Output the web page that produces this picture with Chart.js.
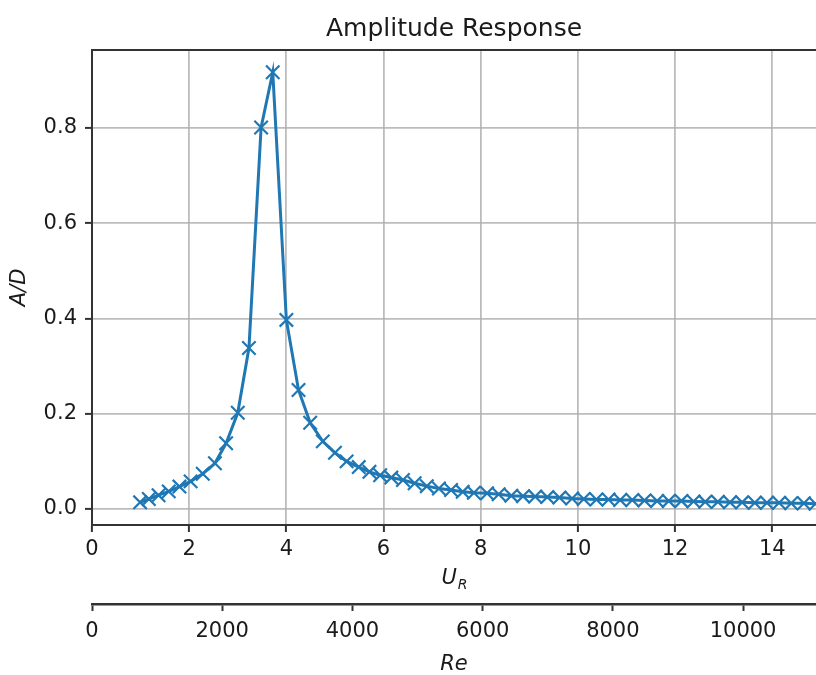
<!DOCTYPE html>
<html lang="en">
<head>
  <meta charset="UTF-8">
  <title>Amplitude Response</title>
  <script src="https://cdn.jsdelivr.net/npm/chart.js"></script>
  <style>
    body { margin: 0; background: #fff; }
    #wrap { width: 816px; height: 675px; }
  </style>
</head>
<body>
<div id="wrap"><canvas id="chart" width="816" height="675"></canvas></div>

<script>
  // reduced velocity U_R and amplitude ratio A/D
  const urValues = [0.99, 1.17, 1.37, 1.58, 1.80, 2.03, 2.28, 2.53, 2.76, 3.00,
    3.23, 3.48, 3.72, 4.00, 4.25, 4.49, 4.75, 5.00, 5.24, 5.49, 5.71, 5.93, 6.16,
    6.40, 6.64, 6.89, 7.14, 7.39, 7.63, 7.86, 8.13, 8.37, 8.63, 8.87, 9.12, 9.37,
    9.62, 9.88, 10.12, 10.38, 10.63, 10.87, 11.12, 11.37, 11.63, 11.87, 12.13,
    12.38, 12.62, 12.88, 13.13, 13.38, 13.64, 13.89, 14.14, 14.39, 14.65, 14.89];
  const adValues = [0.014, 0.021, 0.029, 0.037, 0.047, 0.058, 0.074, 0.096, 0.138, 0.202,
    0.338, 0.801, 0.917, 0.397, 0.250, 0.181, 0.142, 0.118, 0.100, 0.088, 0.078, 0.071, 0.066,
    0.061, 0.054, 0.048, 0.043, 0.040, 0.036, 0.034, 0.033, 0.031, 0.028, 0.027, 0.026, 0.025,
    0.024, 0.022, 0.021, 0.020, 0.020, 0.019, 0.019, 0.018, 0.017, 0.017, 0.017,
    0.016, 0.015, 0.015, 0.014, 0.014, 0.013, 0.013, 0.013, 0.012, 0.012, 0.011];

  const urTicks = [0, 2, 4, 6, 8, 10, 12, 14];
  const adTicks = [0, 0.2, 0.4, 0.6, 0.8];
  const reTicks = [0, 2000, 4000, 6000, 8000, 10000];

  const FONT = '"DejaVu Sans", sans-serif';
  const TEXT = '#1a1a1a';
  const SPINE = '#333';
  const GRID = 'rgba(176,176,176,0.85)';
  const BLUE = '#1f77b4';

  // top spine + U_R axis label with subscript
  const extras = {
    id: 'extras',
    afterDraw(chart) {
      const { ctx, chartArea: a } = chart;
      ctx.save();
      ctx.strokeStyle = SPINE;
      ctx.lineWidth = 2;
      ctx.beginPath();
      ctx.moveTo(a.left - 1, a.top);
      ctx.lineTo(a.right, a.top);
      ctx.stroke();

      const cx = (a.left + a.right) / 2;
      const cy = chart.scales.x.bottom - 25;
      ctx.fillStyle = TEXT;
      ctx.textBaseline = 'middle';
      ctx.textAlign = 'left';
      ctx.font = 'italic 21px ' + FONT;
      const wU = ctx.measureText('U').width;
      ctx.font = 'italic 14px ' + FONT;
      const wR = ctx.measureText('R').width;
      const x0 = cx - (wU + wR) / 2;
      ctx.font = 'italic 21px ' + FONT;
      ctx.fillText('U', x0, cy);
      ctx.font = 'italic 14px ' + FONT;
      ctx.fillText('R', x0 + wU + 1, cy + 6);
      ctx.restore();
    }
  };

  new Chart(document.getElementById('chart'), {
    type: 'line',
    data: {
      datasets: [{
        data: urValues.map((u, i) => ({ x: u, y: adValues[i] })),
        borderColor: BLUE,
        backgroundColor: BLUE,
        borderWidth: 3,
        pointStyle: 'crossRot',
        pointRadius: 9.5,
        pointBorderWidth: 2.2,
        pointBorderColor: BLUE,
        tension: 0,
        fill: false
      }]
    },
    options: {
      responsive: false,
      animation: false,
      devicePixelRatio: 1,
      layout: { padding: 0, autoPadding: false },
      plugins: {
        legend: { display: false },
        tooltip: { enabled: false },
        title: {
          display: true,
          text: 'Amplitude Response',
          fullSize: false,
          color: TEXT,
          font: { family: FONT, size: 25, weight: 'normal' },
          padding: { top: 14, bottom: 6 }
        }
      },
      scales: {
        x: {
          type: 'linear',
          position: 'bottom',
          min: 0,
          max: 14.9,
          weight: 0,
          afterBuildTicks: s => { s.ticks = urTicks.map(v => ({ value: v })); },
          afterFit: s => { s.height = 79; },
          ticks: { callback: v => String(v), color: TEXT, font: { family: FONT, size: 21 }, padding: 5, maxRotation: 0 },
          grid: { color: GRID, lineWidth: 1.8, tickLength: 7, tickColor: SPINE, tickWidth: 2 },
          border: { color: SPINE, width: 2 }
        },
        re: {
          type: 'linear',
          position: 'bottom',
          min: 0,
          max: 11120,
          weight: 1,
          afterBuildTicks: s => { s.ticks = reTicks.map(v => ({ value: v })); },
          afterFit: s => { s.height = 71; },
          ticks: { callback: v => String(v), color: TEXT, font: { family: FONT, size: 21 }, padding: 8, maxRotation: 0 },
          grid: { drawOnChartArea: false, tickLength: 7, tickColor: SPINE, tickWidth: 2 },
          border: { color: SPINE, width: 2.5 },
          title: {
            display: true,
            text: 'Re',
            color: TEXT,
            font: { family: FONT, size: 21, style: 'italic', lineHeight: 1 },
            padding: { top: 0, bottom: 0 }
          }
        },
        y: {
          type: 'linear',
          position: 'left',
          min: -0.0336,
          max: 0.9638,
          afterBuildTicks: s => { s.ticks = adTicks.map(v => ({ value: v })); },
          afterFit: s => { s.width = 92; },
          ticks: { callback: v => v.toFixed(1), color: TEXT, font: { family: FONT, size: 21 }, padding: 8 },
          grid: { color: GRID, lineWidth: 1.8, tickLength: 7, tickColor: SPINE, tickWidth: 2 },
          border: { color: SPINE, width: 2 },
          title: {
            display: true,
            text: 'A/D',
            color: TEXT,
            font: { family: FONT, size: 21, style: 'italic' },
            padding: { top: 7, bottom: 0 }
          }
        }
      }
    },
    plugins: [extras]
  });
</script>
</body>
</html>
